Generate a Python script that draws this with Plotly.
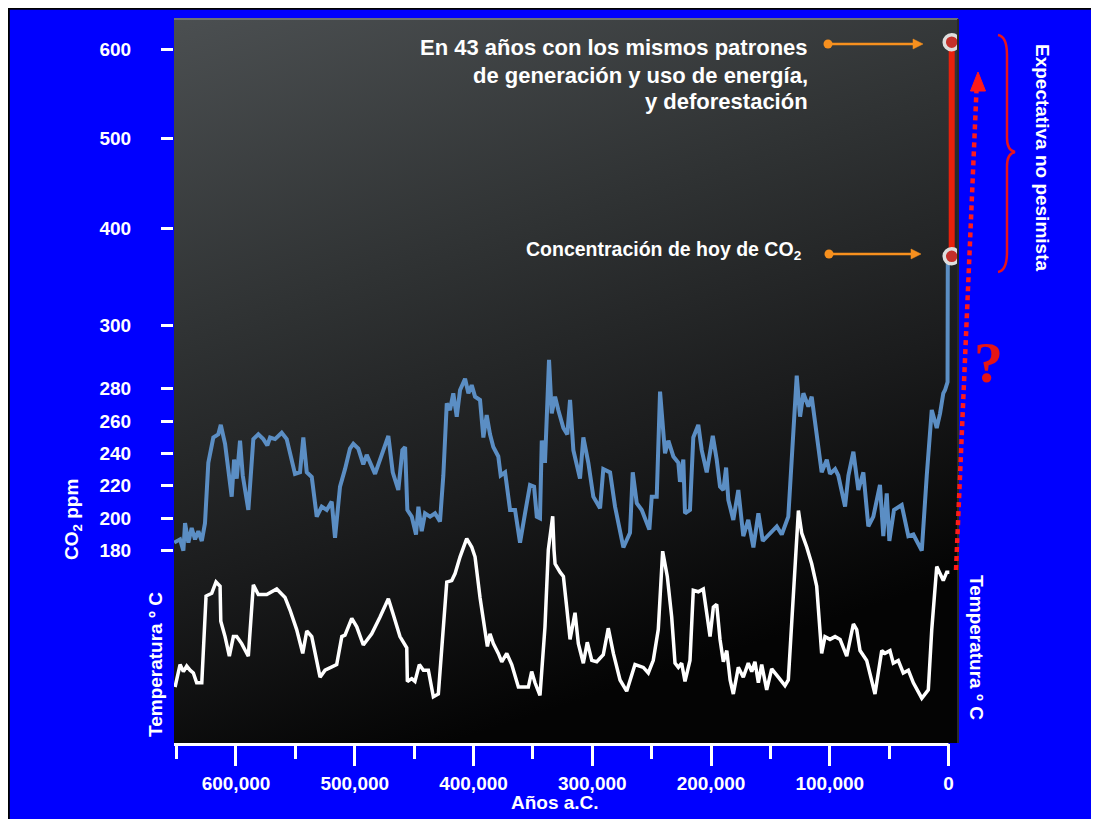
import base64
import numpy as np
import plotly.graph_objects as go

# ---------------- data ----------------
co2_age_ka = [652.0, 647.1, 644.3, 642.9, 640.1, 637.3, 634.5, 631.7, 628.8, 626.1, 623.3, 619.1, 614.9, 612.8,
              609.2, 603.6, 601.6, 599.4, 596.6, 594.3, 589.6, 585.4, 581.2, 577.0, 573.6, 571.3, 567.1, 561.5,
              557.3, 550.3, 546.1, 543.3, 540.4, 536.2, 532.0, 527.8, 523.6, 519.4, 516.6, 512.4, 508.2, 504.0,
              501.2, 497.0, 492.8, 489.9, 482.9, 475.9, 471.7, 468.0, 463.3, 459.9, 457.6, 455.7, 452.0, 448.4,
              446.4, 443.6, 440.8, 436.6, 432.4, 428.2, 425.4, 422.5, 419.8, 417.0, 414.1, 411.3, 407.1, 404.3,
              401.5, 398.7, 394.5, 391.7, 388.9, 386.1, 383.3, 379.1, 377.1, 373.4, 369.2, 365.0, 360.8, 356.6,
              352.4, 349.0, 346.7, 344.0, 342.5, 339.8, 336.4, 334.1, 331.3, 328.6, 324.3, 321.0, 318.7, 315.9,
              310.3, 307.5, 303.3, 299.1, 293.4, 290.7, 285.0, 280.8, 276.6, 273.8, 268.2, 265.9, 262.5, 258.3,
              251.9, 249.9, 245.7, 242.9, 238.7, 235.9, 231.7, 227.5, 226.1, 223.3, 221.9, 217.7, 214.9, 210.7,
              207.8, 203.6, 198.5, 195.2, 192.4, 189.6, 187.3, 185.4, 181.2, 177.0, 172.8, 168.6, 164.3, 160.1,
              156.4, 150.3, 144.6, 140.4, 134.9, 127.8, 125.0, 122.2, 118.0, 115.2, 111.0, 106.8, 102.5, 99.8,
              95.5, 92.8, 87.1, 84.3, 80.1, 75.9, 71.7, 67.5, 63.3, 57.7, 54.9, 52.0, 49.8, 45.9, 39.4, 33.8,
              29.6, 22.5, 18.3, 14.1, 9.9, 7.1, 4.4, 2.9, 0.8, 0.6]
co2_ppm = [185, 187, 180, 197, 185, 194, 187, 192, 186, 197, 234, 250, 252, 258,
           246, 213, 236, 224, 248, 226, 205, 249, 252, 249, 245, 250, 249, 253,
           249, 227, 228, 250, 228, 225, 201, 207, 205, 210, 188, 219, 230, 243,
           246, 243, 233, 239, 227, 242, 251, 228, 217, 242, 244, 205, 201, 190,
           207, 192, 203, 201, 203, 198, 226, 271, 267, 277, 263, 279, 283, 277,
           281, 275, 273, 250, 264, 252, 244, 238, 226, 228, 205, 205, 185, 203,
           220, 219, 201, 200, 248, 234, 289, 265, 275, 267, 256, 252, 273, 242,
           224, 250, 234, 213, 206, 230, 228, 207, 191, 182, 191, 228, 209, 205,
           193, 213, 213, 278, 240, 248, 238, 234, 222, 236, 203, 205, 250, 258,
           242, 228, 251, 236, 219, 217, 231, 211, 199, 217, 189, 199, 182, 203,
           186, 191, 195, 190, 201, 284, 263, 277, 269, 275, 252, 228, 236, 227,
           230, 226, 207, 226, 241, 217, 228, 195, 201, 220, 189, 215, 186, 205, 208, 189,
           190, 180, 226, 267, 256, 265, 277, 279, 282, 366]

temp_age_ka = [651.3, 647.1, 644.3, 641.5, 638.7, 635.9, 633.1, 628.8, 625.2, 620.4, 616.8, 613.4, 612.8, 609.2,
               605.6, 602.2, 599.4, 595.2, 589.6, 585.4, 581.2, 574.1, 565.7, 558.7, 554.5, 548.9, 543.8, 540.4,
               536.2, 529.2, 525.0, 520.8, 515.2, 510.9, 508.2, 502.5, 498.3, 492.8, 485.7, 478.7, 471.7, 468.0,
               461.9, 456.2, 455.7, 452.0, 449.3, 445.6, 442.2, 438.0, 433.8, 429.6, 422.5, 418.3, 415.5, 411.3,
               405.7, 401.5, 398.7, 394.5, 390.3, 388.3, 386.1, 383.3, 379.1, 376.2, 372.0, 367.8, 362.2, 358.0,
               353.8, 351.0, 348.2, 344.0, 339.8, 337.0, 333.3, 332.2, 331.3, 327.1, 324.3, 321.5, 318.7, 314.5,
               311.7, 307.5, 304.2, 300.4, 296.2, 290.7, 286.5, 282.2, 276.6, 271.0, 268.2, 264.0, 257.0, 252.8,
               248.6, 244.4, 240.7, 236.8, 233.1, 230.3, 227.5, 224.7, 221.9, 217.7, 214.9, 210.7, 206.5, 203.6,
               200.8, 198.0, 195.2, 192.4, 189.6, 186.7, 183.9, 181.2, 177.0, 172.8, 168.6, 165.7, 163.0, 160.1,
               157.3, 153.1, 148.9, 143.3, 137.7, 134.9, 130.7, 126.4, 123.6, 119.4, 115.2, 111.0, 106.8, 104.0,
               99.8, 95.5, 91.3, 85.7, 80.1, 77.3, 74.5, 68.9, 61.9, 56.2, 53.5, 49.3, 46.5, 42.3, 38.1, 33.8,
               29.6, 22.5, 17.0, 14.1, 9.9, 7.1, 4.4, 1.5, -0.7]
temp_anom = [-8.0, -6.4, -6.9, -6.5, -6.8, -7.0, -7.7, -7.7, -1.5, -1.3, -0.5, -0.8, -3.3, -4.4,
             -5.8, -4.4, -4.4, -4.9, -5.8, -0.7, -1.4, -1.4, -1.0, -1.6, -2.5, -3.9, -5.6, -4.0,
             -4.4, -7.3, -6.8, -6.6, -6.4, -4.4, -4.3, -3.1, -3.7, -5.0, -4.2, -3.0, -1.7, -2.7,
             -4.4, -5.2, -7.6, -7.4, -7.6, -6.4, -6.8, -6.8, -8.7, -8.5, -0.5, -0.4, 0.1, 1.3,
             2.6, 2.0, 1.3, -1.6, -3.9, -5.1, -4.2, -4.9, -5.6, -6.2, -5.6, -6.4, -8.0, -8.0,
             -8.0, -6.9, -7.7, -8.6, -3.7, 1.8, 4.2, 1.8, 0.8, 0.2, -0.1, -2.3, -4.6, -2.7,
             -4.9, -6.3, -4.8, -6.1, -6.2, -5.7, -3.8, -5.6, -7.5, -8.3, -7.5, -6.4, -6.6, -7.0,
             -6.1, -3.9, 1.7, -0.1, -3.0, -6.3, -6.6, -6.3, -7.6, -6.1, -1.1, -1.2, -1.0, -2.7,
             -4.4, -2.3, -2.1, -4.6, -6.2, -5.4, -7.5, -8.5, -6.6, -7.3, -6.3, -6.9, -6.2, -7.7,
             -6.4, -8.2, -6.7, -7.3, -7.9, -7.5, -1.1, 4.6, 3.0, 2.0, 0.8, -0.8, -5.6, -4.4,
             -4.6, -4.4, -4.6, -5.8, -3.5, -3.9, -5.4, -6.1, -8.5, -5.4, -5.6, -5.4, -6.3, -6.1, -7.0, -6.8,
             -7.7, -8.8, -8.2, -3.9, 0.6, 0.1, -0.4, 0.2, 0.2]

proj_age_ka = [-2.7, -2.7]
proj_ppm = [371, 608]

x_tick_vals = [600, 500, 400, 300, 200, 100, 0]
x_tick_text = ["600,000", "500,000", "400,000", "300,000", "200,000", "100,000", "0"]
x_minor_vals = [650, 550, 450, 350, 250, 150, 50]
y_tick_ppm = [180, 200, 220, 240, 260, 280, 300, 400, 500, 600]
y_tick_text = [str(v) for v in y_tick_ppm]

note_lines = ["En 43 años con los mismos patrones", "de generación y uso de energía,", "y deforestación"]

# broken CO2 scale of the original (ppm -> axis position)
scale_ppm = [180, 200, 220, 240, 260, 280, 300, 400, 500, 600, 700]
scale_pos = [0, 32.4, 65.7, 97.4, 129.0, 162.4, 225.7, 322.4, 412.4, 501.4, 590.4]


def co2_pos(v):
    return np.interp(np.asarray(v, dtype=float), scale_ppm, scale_pos)


# ---------------- geometry (page offset 8 px from body margin) ----------------
OFF = 8
W, H = 1091, 811
ML, MR, MT, MB = 166, 141, 11, 76
PW, PH = W - ML - MR, H - MT - MB


def pp(px, py):
    """page pixel -> paper coordinate"""
    return (px - OFF - ML) / PW, (H - MB - (py - OFF)) / PH


def path(pts, close=False):
    out = []
    for cmd, coords in pts:
        s = cmd
        for (px, py) in coords:
            x, y = pp(px, py)
            s += f" {x:.5f},{y:.5f}"
        out.append(s)
    return " ".join(out) + (" Z" if close else "")


FONT = "Liberation Sans, Arial, sans-serif"
WHITE = "#ffffff"
ORANGE = "#f7901e"
RED = "#ff1a1a"

svg = ("<svg xmlns='http://www.w3.org/2000/svg' width='784' height='724' preserveAspectRatio='none'>"
       "<defs><linearGradient id='g' x1='0' y1='0' x2='0.35' y2='1'>"
       "<stop offset='0' stop-color='#4b4f51'/>"
       "<stop offset='0.4' stop-color='#2f3233'/>"
       "<stop offset='0.7' stop-color='#1b1c1d'/>"
       "<stop offset='1' stop-color='#040404'/>"
       "</linearGradient></defs><rect width='784' height='724' fill='url(#g)'/></svg>")
bg_src = "data:image/svg+xml;base64," + base64.b64encode(svg.encode()).decode()

fig = go.Figure()

fig.add_trace(go.Scatter(x=co2_age_ka, y=co2_pos(co2_ppm), mode="lines",
                         line=dict(color="#5b8ec4", width=4), hoverinfo="skip"))
fig.add_trace(go.Scatter(x=proj_age_ka, y=co2_pos(proj_ppm), mode="lines+markers",
                         line=dict(color="#e8200c", width=6),
                         marker=dict(size=15, color="#c4302b", line=dict(color="#dedede", width=3.5)),
                         hoverinfo="skip"))
fig.add_trace(go.Scatter(x=temp_age_ka, y=temp_anom, mode="lines", yaxis="y2",
                         line=dict(color=WHITE, width=3.5), hoverinfo="skip"))

# axis ranges derived from the page position of the plot edges
top_py, bot_py = OFF + MT, OFF + H - MB
y_top, y_bot = 550.7 - top_py, 550.7 - bot_py
t_top, t_bot = (575 - top_py) / 14, (575 - bot_py) / 14

TICKFONT = dict(size=19, color=WHITE, family=FONT, weight="bold")

fig.update_layout(
    width=W, height=H,
    margin=dict(l=ML, r=MR, t=MT, b=MB, pad=0),
    paper_bgcolor="#0000ff",
    plot_bgcolor="rgba(0,0,0,0)",
    showlegend=False,
    hovermode=False,
    font=dict(family=FONT, color=WHITE),
    xaxis=dict(range=[652.2, -8.0], tickmode="array", tickvals=x_tick_vals, ticktext=x_tick_text,
               ticks="outside", ticklen=22, tickwidth=3, tickcolor=WHITE, tickfont=TICKFONT,
               showgrid=False, zeroline=False, showline=False, ticklabelstandoff=1,
               minor=dict(tickmode="array", tickvals=x_minor_vals, ticks="outside", ticklen=15,
                          tickwidth=3, tickcolor=WHITE, showgrid=False)),
    yaxis=dict(range=[y_bot, y_top], tickmode="array", tickvals=list(co2_pos(y_tick_ppm)),
               ticktext=y_tick_text, ticks="outside", ticklen=12, tickwidth=3, tickcolor=WHITE,
               tickfont=TICKFONT, showgrid=False, zeroline=False, showline=False,
               ticklabelstandoff=26),
    yaxis2=dict(range=[t_bot, t_top], overlaying="y", visible=False),
    images=[dict(source=bg_src, xref="paper", yref="paper", x=0, y=1, sizex=1, sizey=1,
                 sizing="stretch", xanchor="left", yanchor="top", layer="below")],
)

shapes = []
# black frame lines on the top and left edges of the figure
a, b = pp(OFF, OFF + 0.8)
c, d = pp(OFF + W, OFF + 0.8)
shapes.append(dict(type="line", xref="paper", yref="paper", x0=a, y0=b, x1=c, y1=d,
                   line=dict(color="black", width=2)))
a, b = pp(OFF + 0.8, OFF)
c, d = pp(OFF + 0.8, OFF + H)
shapes.append(dict(type="line", xref="paper", yref="paper", x0=a, y0=b, x1=c, y1=d,
                   line=dict(color="black", width=2)))
# plot top light edge and right dark edge
shapes.append(dict(type="line", xref="paper", yref="paper", x0=0, y0=1, x1=1, y1=1,
                   line=dict(color="#6e7274", width=2)))
shapes.append(dict(type="line", xref="paper", yref="paper", x0=1, y0=0, x1=1, y1=1,
                   line=dict(color="#2a2a2a", width=2)))
# x axis base line (ends at 0)
shapes.append(dict(type="line", xref="x", yref="paper", x0=652.2, x1=0, y0=-0.002, y1=-0.002,
                   line=dict(color=WHITE, width=3)))
# red dotted arrow
a, b = pp(956, 570)
c, d = pp(976.5, 90)
shapes.append(dict(type="line", xref="paper", yref="paper", x0=a, y0=b, x1=c, y1=d,
                   line=dict(color=RED, width=4.5, dash="5px,4px")))
shapes.append(dict(type="path", xref="paper", yref="paper",
                   path=path([("M", [(978, 72)]), ("L", [(970.5, 91)]), ("L", [(985.5, 91)])], close=True),
                   fillcolor=RED, line=dict(color=RED, width=1)))
# curly brace
brace = path([("M", [(998, 35)]),
              ("C", [(1004, 36), (1007, 42), (1007, 55)]),
              ("L", [(1007, 138)]),
              ("C", [(1007, 147), (1010, 151), (1015, 152)]),
              ("C", [(1010, 153), (1007, 157), (1007, 166)]),
              ("L", [(1007, 252)]),
              ("C", [(1007, 265), (1004, 271), (998, 272)])])
shapes.append(dict(type="path", xref="paper", yref="paper", path=brace,
                   line=dict(color="#e8141a", width=2.5)))
# orange pointer arrows
for (tail_x, head_x, yy) in [(828, 923, 44), (829, 921, 254)]:
    a, b = pp(tail_x, yy)
    c, d = pp(head_x - 8, yy)
    shapes.append(dict(type="line", xref="paper", yref="paper", x0=a, y0=b, x1=c, y1=d,
                       line=dict(color=ORANGE, width=2.5)))
    a, b = pp(tail_x - 4.5, yy - 4.5)
    c, d = pp(tail_x + 4.5, yy + 4.5)
    shapes.append(dict(type="circle", xref="paper", yref="paper", x0=a, y0=b, x1=c, y1=d,
                       fillcolor=ORANGE, line=dict(color=ORANGE, width=0)))
    shapes.append(dict(type="path", xref="paper", yref="paper",
                       path=path([("M", [(head_x, yy)]), ("L", [(head_x - 10, yy - 5)]),
                                  ("L", [(head_x - 10, yy + 5)])], close=True),
                       fillcolor=ORANGE, line=dict(color=ORANGE, width=0.5)))
fig.update_layout(shapes=shapes)

ann = []


def add_text(text, px, py, size, angle=0, xanchor="center", align="center", color=WHITE,
             family=FONT, weight="bold"):
    x, y = pp(px, py)
    ann.append(dict(text=text, x=x, y=y, xref="paper", yref="paper", showarrow=False,
                    xanchor=xanchor, yanchor="middle", align=align, textangle=angle,
                    font=dict(size=size, color=color, family=family, weight=weight)))


for line_text, line_y in zip(note_lines, [48, 75, 102]):
    add_text(line_text, 810, line_y, 22, xanchor="right", align="right")
add_text("Concentración de hoy de CO<sub>2</sub>", 804, 251, 19.5, xanchor="right", align="right")
add_text("CO<sub>2</sub> ppm", 73, 520, 19, angle=-90)
add_text("Temperatura º C", 155, 665, 19, angle=-90)
add_text("Temperatura º C", 977, 647, 19, angle=90)
add_text("Expectativa no pesimista", 1043, 157, 19, angle=90)
add_text("Años a.C.", 555, 802, 19)
add_text("?", 989, 362, 58, color="#e61414", family="Liberation Serif, DejaVu Serif, serif")
fig.update_layout(annotations=ann)

fig.write_html("out.html")
